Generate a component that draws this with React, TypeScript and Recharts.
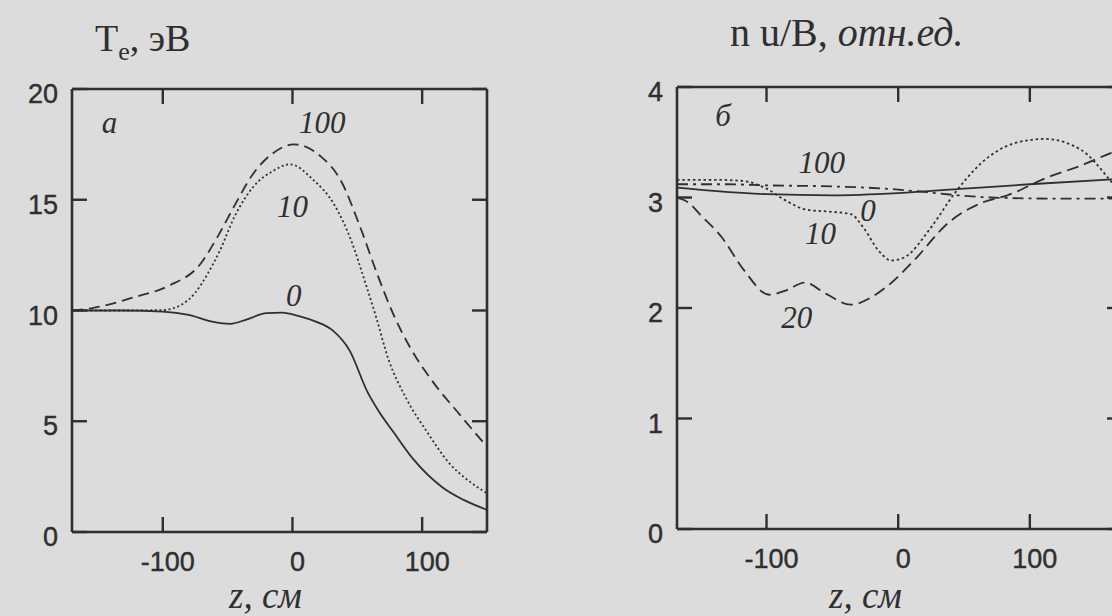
import React from "react"
import { LineChart, Line, XAxis, YAxis, ReferenceDot } from "recharts"

const INK = "#2f2f2f"
const PAPER = "#dcdcdc"
const SANS = "'Liberation Sans', Arial, sans-serif"
const SERIF = "'Liberation Serif', 'Times New Roman', serif"

// shared axis ticks
const zTicks = [-100, 0, 100]
const teTicks = [0, 5, 10, 15, 20]
const fluxTicks = [0, 1, 2, 3, 4]

// panel a: electron temperature, eV
const te0 = [
  { z: -170, v: 10 }, { z: -130, v: 10 }, { z: -100, v: 9.95 }, { z: -80, v: 9.8 },
  { z: -62, v: 9.5 }, { z: -48, v: 9.4 }, { z: -35, v: 9.6 }, { z: -20, v: 9.88 },
  { z: -8, v: 9.9 }, { z: 5, v: 9.75 }, { z: 18, v: 9.5 }, { z: 31, v: 9.1 },
  { z: 44, v: 8.2 }, { z: 58, v: 6.3 }, { z: 66, v: 5.5 }, { z: 78, v: 4.5 },
  { z: 93, v: 3.3 }, { z: 116, v: 2.0 }, { z: 132, v: 1.45 }, { z: 150, v: 1.0 },
]
const te10 = [
  { z: -170, v: 10 }, { z: -130, v: 10 }, { z: -100, v: 10.02 }, { z: -86, v: 10.25 },
  { z: -75, v: 10.8 }, { z: -65, v: 11.7 }, { z: -56, v: 12.7 }, { z: -45, v: 14.2 },
  { z: -30, v: 15.6 }, { z: -15, v: 16.3 }, { z: -2, v: 16.6 }, { z: 16, v: 15.9 },
  { z: 32, v: 14.8 }, { z: 45, v: 13.2 }, { z: 57, v: 11.1 }, { z: 64, v: 9.8 },
  { z: 74, v: 7.8 }, { z: 88, v: 6.0 }, { z: 104, v: 4.5 }, { z: 121, v: 3.1 },
  { z: 135, v: 2.35 }, { z: 150, v: 1.75 },
]
const te100 = [
  { z: -170, v: 10 }, { z: -155, v: 10.1 }, { z: -122, v: 10.6 }, { z: -96, v: 11.1 },
  { z: -71, v: 12.1 }, { z: -58, v: 13.3 }, { z: -45, v: 14.7 }, { z: -30, v: 16.2 },
  { z: -15, v: 17.1 }, { z: 1, v: 17.5 }, { z: 22, v: 16.95 }, { z: 37, v: 15.9 },
  { z: 52, v: 13.8 }, { z: 65, v: 11.7 }, { z: 78, v: 9.8 }, { z: 91, v: 8.3 },
  { z: 108, v: 6.8 }, { z: 129, v: 5.3 }, { z: 150, v: 3.85 },
]

// panel б: n u / B, relative units
const flux0 = [
  { z: -168, v: 3.09 }, { z: -140, v: 3.06 }, { z: -100, v: 3.03 }, { z: -50, v: 3.02 },
  { z: 0, v: 3.04 }, { z: 50, v: 3.08 }, { z: 100, v: 3.12 }, { z: 170, v: 3.17 },
]
const flux100 = [
  { z: -168, v: 3.12 }, { z: -130, v: 3.12 }, { z: -100, v: 3.11 }, { z: -50, v: 3.1 },
  { z: -10, v: 3.08 }, { z: 20, v: 3.05 }, { z: 45, v: 3.02 }, { z: 70, v: 3.0 },
  { z: 120, v: 2.99 }, { z: 170, v: 2.99 },
]
const flux10 = [
  { z: -168, v: 3.16 }, { z: -140, v: 3.16 }, { z: -118, v: 3.15 }, { z: -100, v: 3.08 },
  { z: -85, v: 2.97 }, { z: -70, v: 2.89 }, { z: -50, v: 2.87 }, { z: -36, v: 2.85 },
  { z: -26, v: 2.72 }, { z: -15, v: 2.52 }, { z: -5, v: 2.43 }, { z: 5, v: 2.46 },
  { z: 25, v: 2.73 }, { z: 43, v: 3.04 }, { z: 63, v: 3.31 }, { z: 88, v: 3.49 },
  { z: 111, v: 3.53 }, { z: 139, v: 3.43 }, { z: 160, v: 3.17 }, { z: 170, v: 3.02 },
]
const flux20 = [
  { z: -168, v: 3.0 }, { z: -160, v: 2.96 }, { z: -150, v: 2.84 }, { z: -134, v: 2.64 },
  { z: -117, v: 2.34 }, { z: -98, v: 2.12 }, { z: -85, v: 2.16 }, { z: -71, v: 2.23 },
  { z: -55, v: 2.13 }, { z: -36, v: 2.03 }, { z: -20, v: 2.1 }, { z: -8, v: 2.2 },
  { z: 12, v: 2.43 }, { z: 38, v: 2.77 }, { z: 63, v: 2.95 }, { z: 83, v: 3.02 },
  { z: 113, v: 3.18 }, { z: 139, v: 3.29 }, { z: 161, v: 3.4 }, { z: 170, v: 3.44 },
]

// curve captions (placed in data coordinates)
const teNotes = [
  { z: -141, v: 18.5, text: "a" },
  { z: 23, v: 18.5, text: "100" },
  { z: 0, v: 14.7, text: "10" },
  { z: 1, v: 10.7, text: "0" },
]
const fluxNotes = [
  { z: -133, v: 3.75, text: "б" },
  { z: -58, v: 3.32, text: "100" },
  { z: -23, v: 2.89, text: "0" },
  { z: -59, v: 2.68, text: "10" },
  { z: -77, v: 1.92, text: "20" },
]

const TICK = 15
const tickText = { fontFamily: SANS, fontSize: 27, fill: INK, stroke: INK, strokeWidth: 0.4 }

const BottomTick = (p: any) => (
  <g>
    <line x1={p.x} y1={p.y} x2={p.x} y2={p.y - TICK} stroke={INK} strokeWidth={2.4} />
    <text x={p.x + 5} y={p.y + 30} textAnchor="middle" dominantBaseline="central" {...tickText}>
      {p.payload.value}
    </text>
  </g>
)
const LeftTick = (p: any) => (
  <g>
    <line x1={p.x} y1={p.y} x2={p.x + TICK} y2={p.y} stroke={INK} strokeWidth={2.4} />
    <text x={p.x - 14} y={p.y + 5} textAnchor="end" dominantBaseline="central" {...tickText}>
      {p.payload.value}
    </text>
  </g>
)
const TopTick = (p: any) => (
  <line x1={p.x} y1={p.y} x2={p.x} y2={p.y + TICK} stroke={INK} strokeWidth={2.4} />
)
const RightTick = (p: any) => (
  <line x1={p.x} y1={p.y} x2={p.x - TICK} y2={p.y} stroke={INK} strokeWidth={2.4} />
)

const axisLine = { stroke: INK, strokeWidth: 2.6 }
const noteStyle = { fontFamily: SERIF, fontStyle: "italic", fontSize: 31, fill: INK }
const zLabel = (dx: number) => ({
  value: "z, см",
  position: "insideBottom" as const,
  offset: 8,
  dx,
  style: { fontFamily: SERIF, fontStyle: "italic", fontSize: 37, fill: INK },
})

export default function App() {
  const line = { type: "monotone" as const, dataKey: "v", stroke: INK, strokeWidth: 1.8, dot: false, isAnimationActive: false }
  const teX = [-170, 150]
  const fluxX = [-168, 170]
  return (
    <div style={{ position: "absolute", left: 0, top: 0, width: 1112, height: 616, overflow: "hidden", background: PAPER }}>
      <div style={{ position: "absolute", left: 95, top: 19, fontFamily: SERIF, fontSize: 38, color: INK, lineHeight: 1, whiteSpace: "nowrap" }}>
        T<sub style={{ fontSize: 26 }}>e</sub>, эВ
      </div>
      <div style={{ position: "absolute", left: 730, top: 13, fontFamily: SERIF, fontSize: 40, color: INK, lineHeight: 1, whiteSpace: "nowrap" }}>
        n u/B, <i>отн.ед.</i>
      </div>

      <div style={{ position: "absolute", left: 0, top: 0 }}>
        <LineChart width={560} height={616} margin={{ top: 88, right: 72, bottom: 0, left: 0 }}>
          <XAxis xAxisId="b" dataKey="z" type="number" domain={teX} ticks={zTicks} allowDataOverflow
            height={84} tickSize={0} tickMargin={0} tickLine={false} axisLine={axisLine} tick={BottomTick}
            label={zLabel(-14)} />
          <XAxis xAxisId="t" orientation="top" dataKey="z" type="number" domain={teX} ticks={zTicks} allowDataOverflow
            height={1} tickSize={0} tickMargin={0} tickLine={false} axisLine={axisLine} tick={TopTick} />
          <YAxis yAxisId="l" type="number" domain={[0, 20]} ticks={teTicks} allowDataOverflow
            width={72} tickSize={0} tickMargin={0} tickLine={false} axisLine={axisLine} tick={LeftTick} />
          <YAxis yAxisId="r" orientation="right" type="number" domain={[0, 20]} ticks={teTicks} allowDataOverflow
            width={1} tickSize={0} tickMargin={0} tickLine={false} axisLine={axisLine} tick={RightTick} />
          {/* invisible carrier so the frame axes get drawn */}
          <Line {...line} xAxisId="t" yAxisId="r" data={te0} stroke="none" />
          <Line {...line} xAxisId="b" yAxisId="l" data={te0} />
          <Line {...line} xAxisId="b" yAxisId="l" data={te10} strokeDasharray="2 2.6" />
          <Line {...line} xAxisId="b" yAxisId="l" data={te100} strokeDasharray="11 6" />
          {teNotes.map((n) => (
            <ReferenceDot key={n.text} xAxisId="b" yAxisId="l" x={n.z} y={n.v} r={1} fill="none" stroke="none"
              label={{ value: n.text, position: "center", ...noteStyle }} />
          ))}
        </LineChart>
      </div>

      <div style={{ position: "absolute", left: 560, top: 0 }}>
        <LineChart width={600} height={616} margin={{ top: 86, right: 37, bottom: 0, left: 0 }}>
          <XAxis xAxisId="b" dataKey="z" type="number" domain={fluxX} ticks={zTicks} allowDataOverflow
            height={87} tickSize={0} tickMargin={0} tickLine={false} axisLine={axisLine} tick={BottomTick}
            label={zLabel(-34)} />
          <XAxis xAxisId="t" orientation="top" dataKey="z" type="number" domain={fluxX} ticks={zTicks} allowDataOverflow
            height={1} tickSize={0} tickMargin={0} tickLine={false} axisLine={axisLine} tick={TopTick} />
          <YAxis yAxisId="l" type="number" domain={[0, 4]} ticks={fluxTicks} allowDataOverflow
            width={117} tickSize={0} tickMargin={0} tickLine={false} axisLine={axisLine} tick={LeftTick} />
          <YAxis yAxisId="r" orientation="right" type="number" domain={[0, 4]} ticks={fluxTicks} allowDataOverflow
            width={1} tickSize={0} tickMargin={0} tickLine={false} axisLine={axisLine} tick={RightTick} />
          <Line {...line} xAxisId="t" yAxisId="r" data={flux0} stroke="none" />
          <Line {...line} xAxisId="b" yAxisId="l" data={flux0} />
          <Line {...line} xAxisId="b" yAxisId="l" data={flux100} strokeDasharray="11 5 3 5" />
          <Line {...line} xAxisId="b" yAxisId="l" data={flux10} strokeDasharray="2.5 2.8" />
          <Line {...line} xAxisId="b" yAxisId="l" data={flux20} strokeDasharray="12 6" />
          {fluxNotes.map((n) => (
            <ReferenceDot key={n.text} xAxisId="b" yAxisId="l" x={n.z} y={n.v} r={1} fill="none" stroke="none"
              label={{ value: n.text, position: "center", ...noteStyle }} />
          ))}
        </LineChart>
      </div>
    </div>
  )
}
